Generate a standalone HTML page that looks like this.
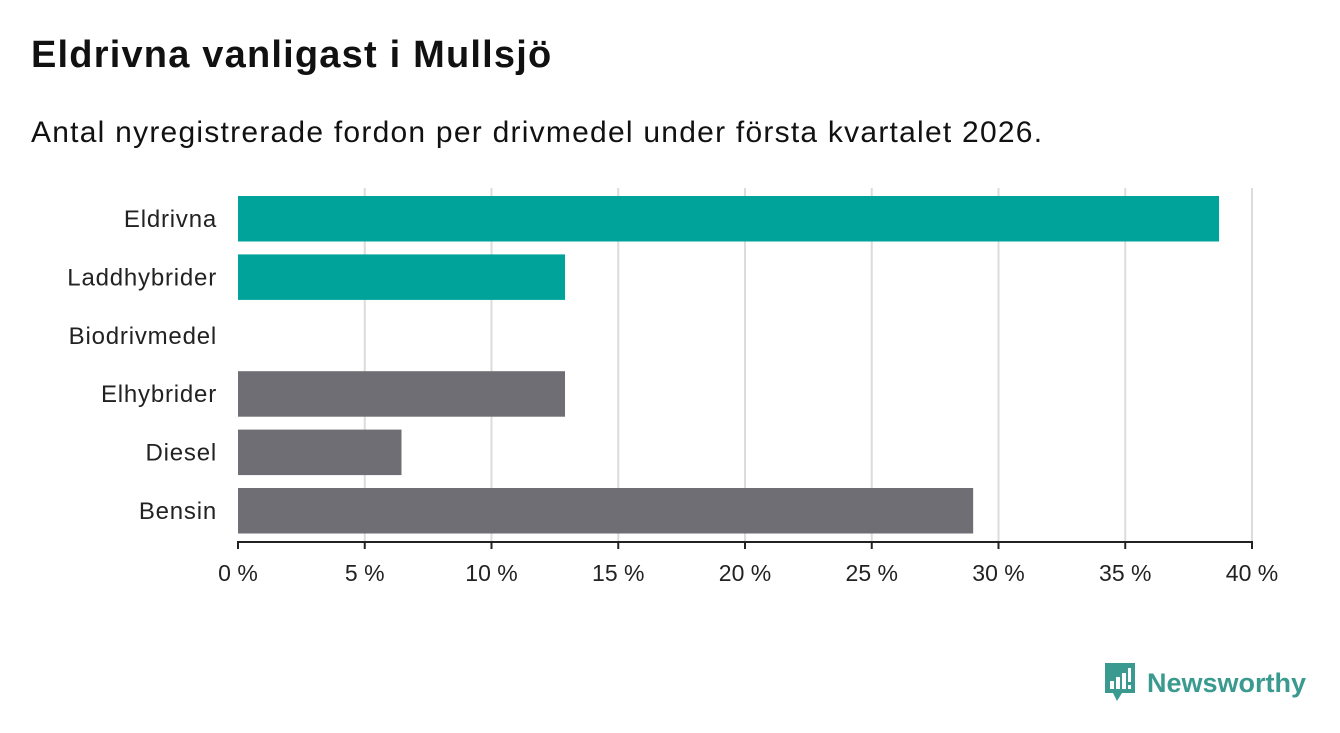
<!DOCTYPE html>
<html><head><meta charset="utf-8">
<style>
body{margin:0;width:1340px;height:733px;background:#fff;font-family:"Liberation Sans","DejaVu Sans",sans-serif;overflow:hidden}
h1{position:absolute;left:31px;top:34px;margin:0;font-size:38px;font-weight:bold;color:#111;letter-spacing:1.2px}
.sub{position:absolute;left:31px;top:116px;font-size:30px;color:#111;letter-spacing:1.24px}
#chart{position:absolute;left:0;top:0}
</style></head><body>
<h1>Eldrivna vanligast i Mullsjö</h1>
<div class="sub">Antal nyregistrerade fordon per drivmedel under första kvartalet 2026.</div>
<svg id="chart" width="1340" height="733"></svg>
<div style="position:absolute;left:1103px;top:663px;display:flex;align-items:center">
<svg width="34" height="40" viewBox="0 0 34 40"><path d="M2 0H32V30H19L14 38L10 30H2Z" fill="#3a9a8f"/><rect x="7" y="18" width="4" height="8" fill="#fff"/><rect x="13" y="14" width="4" height="12" fill="#fff"/><rect x="19" y="10" width="4" height="16" fill="#fff"/><rect x="25" y="5" width="3" height="14" fill="#fff"/><rect x="25" y="22" width="3" height="4" fill="#fff"/></svg>
<span style="font-size:27px;color:#3a9a8f;margin-left:10px;font-weight:bold">Newsworthy</span></div>
<script>
const categories=["Eldrivna","Laddhybrider","Biodrivmedel","Elhybrider","Diesel","Bensin"];
const values=[38.7,12.9,0,12.9,6.45,29.0];
const colors=["#00a39a","#00a39a","#00a39a","#6f6e74","#6f6e74","#6f6e74"];
const ticks=[0,5,10,15,20,25,30,35,40];
const tickLabels=["0 %","5 %","10 %","15 %","20 %","25 %","30 %","35 %","40 %"];
const NS="http://www.w3.org/2000/svg";
const chartSvg=document.getElementById('chart');
const x0=238,x1=1252,plotTop=188,plotBottom=542;
const band=58.4;
const xs=v=>x0+(v-0)/(40-0)*(x1-x0);
function mk(t,a){const e=document.createElementNS(NS,t);for(const k in a)e.setAttribute(k,a[k]);chartSvg.appendChild(e);return e;}
ticks.forEach((t,i)=>{
 if(i>0){const g=mk('line',{x1:xs(t),x2:xs(t),y1:plotTop,y2:plotBottom,stroke:'#dcdcdc','stroke-width':2});
 
 }
 const tk=mk('line',{x1:xs(t),x2:xs(t),y1:plotBottom,y2:plotBottom+7,stroke:'#222','stroke-width':2});
 
 
 const tl=mk('text',{x:xs(t),y:plotBottom+39,'text-anchor':'middle','font-size':23,fill:'#222'});
 tl.textContent=tickLabels[i];
 
 
});
categories.forEach((c,i)=>{
 const y=plotTop+i*band;
 const r=mk('rect',{x:x0,y:y+8,width:xs(values[i])-x0,height:45.5,fill:colors[i]});
 
 
 const l=mk('text',{x:217,y:y+8+23+8,'text-anchor':'end','font-size':24,'letter-spacing':0.8,fill:'#222'});
 l.textContent=c;
 
 
});
const ax=mk('line',{x1:x0-1,x2:x1+1,y1:plotBottom,y2:plotBottom,stroke:'#222','stroke-width':2});


</script>
</body></html>
